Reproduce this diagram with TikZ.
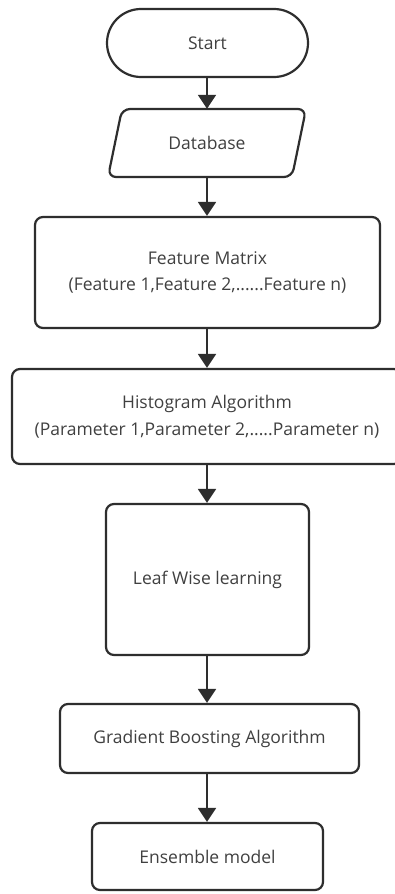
\documentclass[tikz,border=0pt]{standalone}
\usepackage{fontspec}
\setmainfont{Open Sans}
\usetikzlibrary{arrows.meta}
\definecolor{edge}{HTML}{2E2E2E}
\definecolor{label}{HTML}{404040}
\begin{document}
\begin{tikzpicture}[x=1pt,y=-1pt,
  txt/.style={text=label, align=center, font=\fontsize{17.5}{26.5}\selectfont, inner sep=0pt},
  box/.style={txt, draw=edge, line width=2.2pt, rounded corners=8pt},
  outline/.style={draw=edge, line width=2.2pt, rounded corners=8pt},
  flow/.style={draw=edge, line width=1.8pt, -{Triangle[width=18pt,length=14pt]}}]
\useasboundingbox (0,0) rectangle (394,894);
\fill[white] (0,0) rectangle (394,894);

% terminal
\node[box, rounded corners=34pt, minimum width=201pt, minimum height=68pt] (start) at (207.5,43) {Start};

% input / output parallelogram
\draw[outline] (122,109) -- (306,109) -- (292,177) -- (108,177) -- cycle;
\node[txt, minimum width=184pt, minimum height=68pt] (db) at (207,143) {Database};

% process steps
\node[box, minimum width=345pt, minimum height=111pt] (fm) at (207.5,272.5)
  {Feature Matrix\\(Feature 1,Feature 2,......Feature n)};
\node[box, minimum width=390pt, minimum height=95pt] (hist) at (207,416.5)
  {Histogram Algorithm\\(Parameter 1,Parameter 2,.....Parameter n)};
\node[box, minimum width=203pt, minimum height=151pt] (leaf) at (207.5,579.5) {Leaf Wise learning};
\node[box, minimum width=299pt, minimum height=69pt] (grad) at (209.5,738.5) {Gradient Boosting Algorithm};
\node[box, minimum width=231pt, minimum height=67pt] (ens) at (207.5,856.5) {Ensemble model};

% connectors
\draw[flow] (start.south -| db.south) -- (db.south |- db.north);
\draw[flow] (db.south) -- (db.south |- fm.north);
\draw[flow] (fm.south -| db.south) -- (db.south |- hist.north);
\draw[flow] (hist.south -| db.south) -- (db.south |- leaf.north);
\draw[flow] (leaf.south -| db.south) -- (db.south |- grad.north);
\draw[flow] (grad.south -| db.south) -- (db.south |- ens.north);
\end{tikzpicture}
\end{document}
